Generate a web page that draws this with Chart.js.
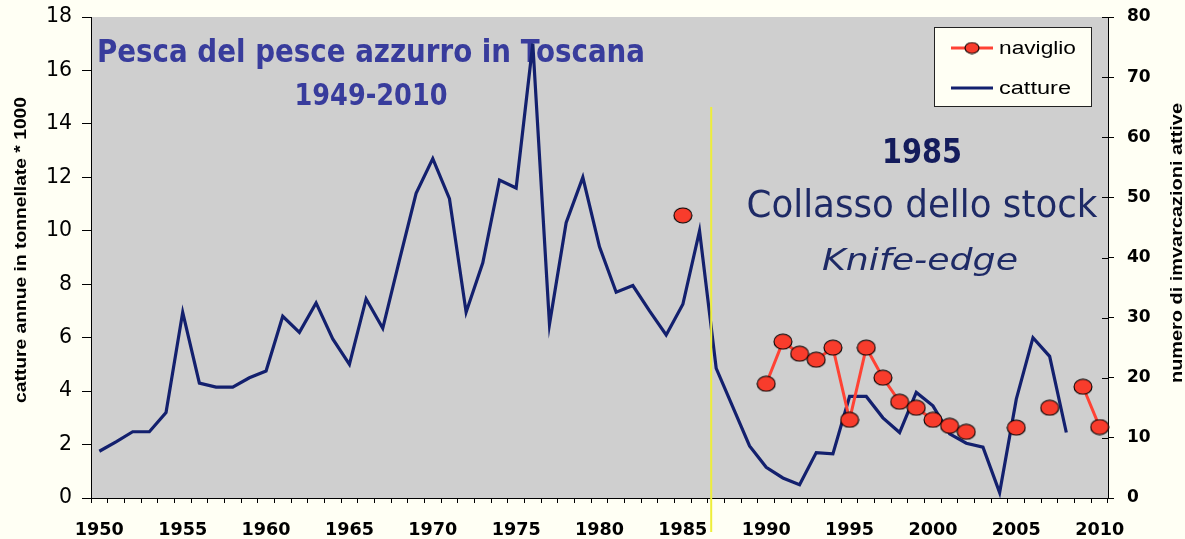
<!DOCTYPE html>
<html><head><meta charset="utf-8">
<script src="https://cdn.jsdelivr.net/npm/chart.js@4/dist/chart.umd.min.js"></script>
<style>html,body{margin:0;padding:0;background:#FFFFF4;overflow:hidden}canvas{display:block}</style>
</head><body>
<canvas id="c" width="1185" height="539"></canvas>
<script>
// ---- data ----
const years = [1950,1951,1952,1953,1954,1955,1956,1957,1958,1959,
  1960,1961,1962,1963,1964,1965,1966,1967,1968,1969,
  1970,1971,1972,1973,1974,1975,1976,1977,1978,1979,
  1980,1981,1982,1983,1984,1985,1986,1987,1988,1989,
  1990,1991,1992,1993,1994,1995,1996,1997,1998,1999,
  2000,2001,2002,2003,2004,2005,2006,2007,2008,2009,2010];
// catture annue (tonnellate * 1000), left axis
const catture = [1.75,2.1,2.48,2.48,3.2,6.95,4.3,4.15,4.15,4.5,
  4.75,6.8,6.2,7.3,5.95,5.0,7.45,6.35,8.9,11.4,
  12.7,11.2,6.95,8.8,11.9,11.6,17.0,6.5,10.3,12.0,
  9.4,7.7,7.95,7.0,6.1,7.25,10.0,4.85,3.4,1.95,
  1.15,0.75,0.5,1.7,1.65,3.8,3.8,3.0,2.45,3.95,
  3.45,2.4,2.05,1.9,0.2,3.7,6.0,5.3,2.45,null,null];
// naviglio: numero di imbarcazioni attive, right axis
const naviglio = [null,null,null,null,null,null,null,null,null,null,
  null,null,null,null,null,null,null,null,null,null,
  null,null,null,null,null,null,null,null,null,null,
  null,null,null,null,null,47,null,null,null,null,
  19,26,24,23,25,13,25,20,16,15,
  13,12,11,null,null,11.7,null,15,null,18.5,11.8];
const xLabelYears = [1950,1955,1960,1965,1970,1975,1980,1985,1990,1995,2000,2005,2010];
const leftMax = 18, leftStep = 2;
const rightMax = 80, rightStep = 10;
const collapseYearPos = 1986.7; // yellow marker line position (year)

const seriesNames = ['naviglio','catture'];
const RED = '#FF4234', RED_FILL = '#F83C2C', BLUE = '#13206E';

function ellipseMarker(w, h, fill){
  const c = document.createElement('canvas');
  c.width = w + 2; c.height = h + 2;
  const g = c.getContext('2d');
  g.beginPath();
  g.ellipse((w+2)/2, (h+2)/2, w/2, h/2, 0, 0, Math.PI*2);
  g.fillStyle = fill; g.fill();
  g.lineWidth = 1.1; g.strokeStyle = '#000'; g.stroke();
  return c;
}
const marker = ellipseMarker(18, 15, RED_FILL);
const legendMarker = ellipseMarker(14, 11, RED_FILL);

// draw text stretched/compressed horizontally to a target width
function fitText(ctx, text, x, y, width, align){
  const w = ctx.measureText(text).width;
  const k = width / w;
  ctx.save();
  ctx.translate(x, y);
  ctx.scale(k, 1);
  ctx.textAlign = align || 'left';
  ctx.fillText(text, 0, 0);
  ctx.restore();
}

const decor = {
  id: 'decor',
  beforeDraw(chart){
    const {ctx, chartArea: a} = chart;
    ctx.save();
    ctx.fillStyle = '#CFCFCF';
    ctx.fillRect(a.left, a.top, a.right - a.left, a.bottom - a.top);
    ctx.restore();
  },
  beforeDatasetsDraw(chart){
    const ctx = chart.ctx;
    ctx.save();
    ctx.textBaseline = 'alphabetic';
    ctx.fillStyle = '#383C9C';
    ctx.font = 'bold 32px "DejaVu Sans"';
    fitText(ctx, 'Pesca del pesce azzurro in Toscana', 97, 62, 548, 'left');
    ctx.font = 'bold 31px "DejaVu Sans"';
    fitText(ctx, '1949-2010', 371, 105, 153, 'center');
    ctx.fillStyle = '#141C5C';
    ctx.font = 'bold 34px "DejaVu Sans"';
    fitText(ctx, '1985', 922, 163, 80, 'center');
    ctx.fillStyle = '#1E2A66';
    ctx.font = '37px "DejaVu Sans"';
    fitText(ctx, 'Collasso dello stock', 922, 217, 351, 'center');
    ctx.font = 'italic 30px "DejaVu Sans"';
    fitText(ctx, 'Knife-edge', 920, 270, 196, 'center');
    ctx.restore();
  },
  afterDraw(chart){
    const ctx = chart.ctx, a = chart.chartArea;
    const x = chart.scales.x, yR = chart.scales.yR;
    ctx.save();
    // inward part of right axis ticks
    ctx.strokeStyle = '#000'; ctx.lineWidth = 1;
    yR.ticks.forEach((t, i) => {
      const py = Math.round(yR.getPixelForTick(i)) + 0.5;
      ctx.beginPath(); ctx.moveTo(a.right - 6, py); ctx.lineTo(a.right, py); ctx.stroke();
    });
    // yellow collapse line
    const idx = collapseYearPos - years[0];
    const px = x.getPixelForValue(idx);
    ctx.strokeStyle = '#EEEE3A'; ctx.lineWidth = 2;
    ctx.beginPath(); ctx.moveTo(px, 107); ctx.lineTo(px, 532); ctx.stroke();
    // x tick labels (every 5 years)
    ctx.fillStyle = '#000';
    ctx.font = 'bold 18px "DejaVu Sans"';
    ctx.textBaseline = 'alphabetic';
    years.forEach((yr, i) => {
      if (!xLabelYears.includes(yr)) return;
      fitText(ctx, String(yr), x.getPixelForValue(i), 535, 49, 'center');
    });
    // legend
    ctx.fillStyle = '#FFFFF4';
    ctx.fillRect(934, 27, 158, 80);
    ctx.strokeStyle = '#222'; ctx.lineWidth = 1;
    ctx.strokeRect(934.5, 27.5, 157, 79);
    const ds = chart.data.datasets;
    const rows = [48, 88];
    const widths = [77, 72];
    ds.forEach((d, i) => {
      const yy = rows[i];
      ctx.strokeStyle = d.borderColor; ctx.lineWidth = 3;
      ctx.beginPath(); ctx.moveTo(951, yy); ctx.lineTo(993, yy); ctx.stroke();
      if (i === 0) ctx.drawImage(legendMarker, 972 - legendMarker.width/2, yy - legendMarker.height/2);
      ctx.fillStyle = '#000';
      ctx.font = '18px "Liberation Sans"';
      ctx.textBaseline = 'middle';
      fitText(ctx, d.label, 999, yy + 1, widths[i], 'left');
    });
    // axis titles
    ctx.fillStyle = '#000';
    ctx.font = 'bold 16px "Liberation Sans"';
    ctx.textBaseline = 'middle';
    ctx.save(); ctx.translate(22, 250); ctx.rotate(-Math.PI/2);
    fitText(ctx, 'catture annue in tonnellate * 1000', 0, 0, 306, 'center'); ctx.restore();
    ctx.save(); ctx.translate(1178, 243); ctx.rotate(-Math.PI/2);
    fitText(ctx, 'numero di imvarcazioni attive', 0, 0, 280, 'center'); ctx.restore();
    ctx.restore();
  }
};

function fixVertical(s, w){ s.width = w; s.paddingTop = 0; s.paddingBottom = 0; }

new Chart(document.getElementById('c'), {
  type: 'line',
  data: {
    labels: years,
    datasets: [
      { label: seriesNames[0], data: naviglio, yAxisID: 'yR',
        borderColor: RED, backgroundColor: RED_FILL, borderWidth: 3,
        pointStyle: marker, pointRadius: 8, spanGaps: false, tension: 0 },
      { label: seriesNames[1], data: catture, yAxisID: 'yL',
        borderColor: BLUE, borderWidth: 3.2, pointRadius: 0, spanGaps: false, tension: 0,
        borderJoinStyle: 'miter' }
    ]
  },
  options: {
    responsive: false, animation: false, devicePixelRatio: 1,
    layout: { padding: { top: 17, left: 0, right: 0, bottom: 0 } },
    plugins: { legend: { display: false }, tooltip: { enabled: false } },
    scales: {
      x: {
        offset: true,
        grid: { display: true, offset: true, drawOnChartArea: false, drawTicks: true, tickLength: 5, color: '#000' },
        border: { display: true, color: '#000', width: 1 },
        ticks: {
          autoSkip: false, maxRotation: 0, minRotation: 0, padding: 15, color: 'rgba(0,0,0,0)',
          font: { family: 'DejaVu Sans', size: 18, weight: 'bold' },
          callback: (v, i) => xLabelYears.includes(years[i]) ? String(years[i]) : ''
        },
        afterFit: s => { s.height = 41; s.paddingLeft = 0; s.paddingRight = 0; }
      },
      yL: {
        position: 'left', min: 0, max: leftMax,
        grid: { display: true, drawOnChartArea: false, drawTicks: true, tickLength: 9, color: '#000' },
        border: { display: true, color: '#000', width: 1 },
        ticks: { stepSize: leftStep, padding: 10, color: '#000', font: { family: 'DejaVu Sans', size: 20.5 } },
        afterFit: s => fixVertical(s, 91)
      },
      yR: {
        position: 'right', min: 0, max: rightMax,
        grid: { display: true, drawOnChartArea: false, drawTicks: true, tickLength: 6, color: '#000' },
        border: { display: true, color: '#000', width: 1 },
        ticks: { stepSize: rightStep, padding: 13, color: '#000', font: { family: 'DejaVu Sans', size: 17, weight: 'bold' } },
        afterFit: s => fixVertical(s, 77)
      }
    }
  },
  plugins: [decor]
});
</script>
</body></html>
